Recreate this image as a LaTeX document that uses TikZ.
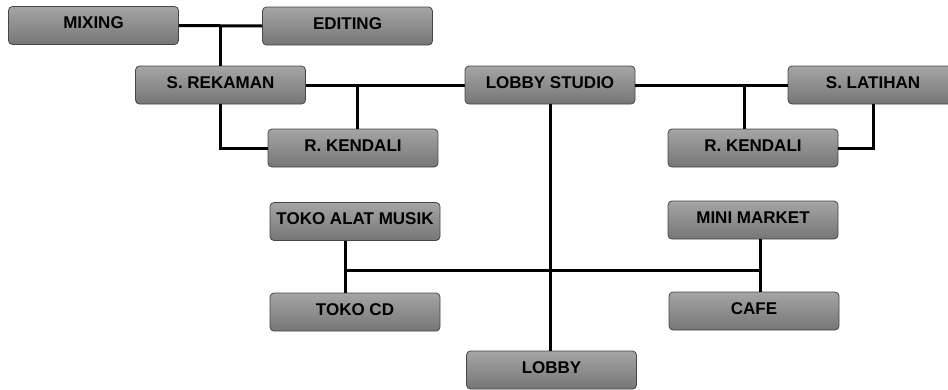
\documentclass[tikz,border=0pt]{standalone}
\usepackage{fontspec}
\setmainfont{Liberation Sans}
\begin{document}
\begin{tikzpicture}[x=1pt,y=-1pt,
  room/.style={draw={rgb,255:red,70;green,70;blue,70}, line width=0.8pt,
    rounded corners=4pt, minimum width=170pt, minimum height=38pt,
    top color={rgb,255:red,165;green,165;blue,165},
    bottom color={rgb,255:red,118;green,118;blue,118},
    font=\fontsize{17}{19}\selectfont\bfseries, text=black, inner sep=0pt,
    text depth=5pt},
  link/.style={line width=3pt, black}]
\useasboundingbox (0,0) rectangle (948,389);

% junction points of the corridors
\coordinate (mixj) at (220.5,25.5);
\coordinate (rk1j) at (357,85);
\coordinate (rk2j) at (744,85);
\coordinate (shopl) at (345,270);
\coordinate (shopr) at (760,270);

% rooms
\node[room] (mix) at (93.5,25.5) {MIXING};
\node[room] (edit) at (347.5,26) {EDITING};
\node[room] (srek) at (220.5,85) {S. REKAMAN};
\node[room] (rk1) at (353,148) {R. KENDALI};
\node[room] (lobs) at (550,85) {LOBBY STUDIO};
\node[room] (slat) at (873,85) {S. LATIHAN};
\node[room] (rk2) at (753,148) {R. KENDALI};
\node[room] (tam) at (355,221.5) {TOKO ALAT MUSIK};
\node[room] (tcd) at (355,312) {TOKO CD};
\node[room] (mm) at (753,220) {MINI MARKET};
\node[room] (cafe) at (754,311) {CAFE};
\node[room] (lobby) at (551.5,370) {LOBBY};

% corridors
\draw[link] (mix.east) -- (edit.west);
\draw[link] (mixj) -- (srek.north);
\draw[link] (srek.east) -- (lobs.west);
\draw[link] (rk1j) -- (rk1j |- rk1.north);
\draw[link] (srek.south) |- (rk1.west);
\draw[link] (lobs.east) -- (slat.west);
\draw[link] (rk2j) -- (rk2j |- rk2.north);
\draw[link] (slat.south) |- (rk2.east);
\draw[link] (lobs.south) -- (lobs.south |- lobby.north);
\draw[link] (shopl |- tam.south) -- (shopl |- tcd.north);
\draw[link] (shopr |- mm.south) -- (shopr |- cafe.north);
\draw[link] (shopl) -- (shopr);
\end{tikzpicture}
\end{document}
